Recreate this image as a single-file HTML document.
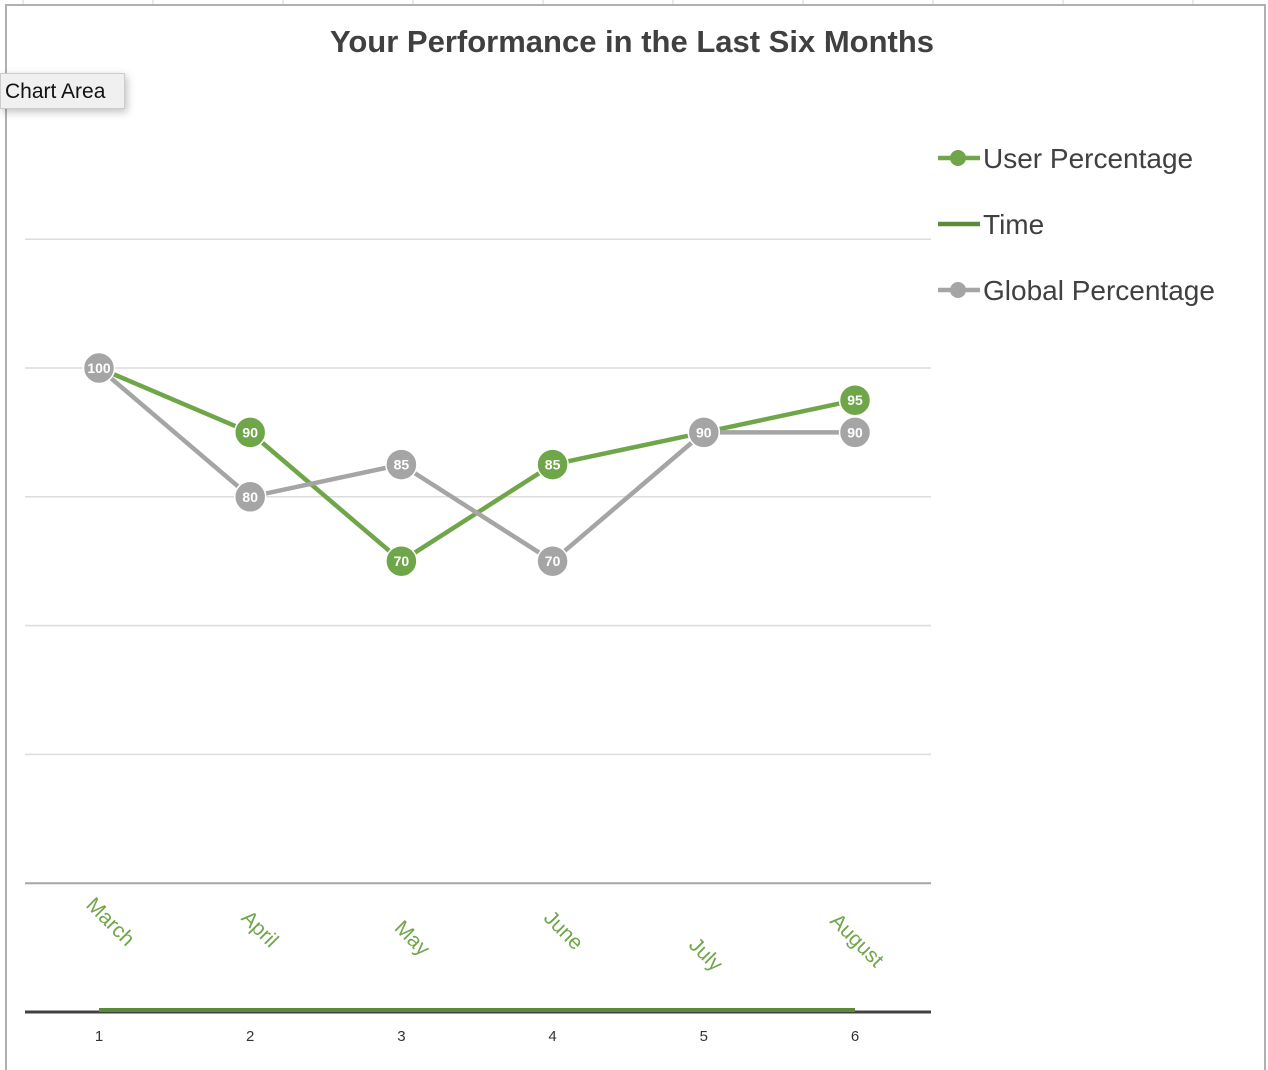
<!DOCTYPE html>
<html><head><meta charset="utf-8"><style>
html,body{margin:0;padding:0;background:#fff;width:1268px;height:1070px;overflow:hidden;font-family:"Liberation Sans",sans-serif}
#tip{position:absolute;left:0;top:73px;width:125px;height:36px;background:#f0f0f0;border:1px solid #ccc;box-shadow:2px 3px 8px rgba(0,0,0,.25);font-size:21px;line-height:36px;padding-left:4px;box-sizing:border-box;color:#111}
</style></head><body>
<svg id="chart" width="1268" height="1070" style="position:absolute;left:0;top:0"></svg>
<div id="tip">Chart Area</div>
<script>
const categories=[1,2,3,4,5,6];
const months=["March","April","May","June","July","August"];
const userValues=[100,90,70,85,90,95];
const globalValues=[100,80,85,70,90,90];
const timeValues=[0,0,0,0,0,0];
const yTicks=[0,20,40,60,80,100,120];
const labelDy=[-106,-93,-83,-93,-66,-90];
const labelDx=[-14,-10,-8,-10,-16,-26];

const NS="http://www.w3.org/2000/svg";
const svg=document.getElementById('chart');
function el(t,a,p){const e=document.createElementNS(NS,t);for(const k in a)e.setAttribute(k,a[k]);(p||svg).appendChild(e);return e;}
const x=v=>99+(v-1)*151.2;
const y=v=>1012-v*6.44;

for(let gx=23;gx<1268;gx+=130){const l=el('line',{x1:gx,y1:0,x2:gx,y2:6,stroke:'#d4d4d4'});}
const fr=el('rect',{x:6,y:5,width:1259,height:1070,fill:'#fff',stroke:'#b0b0b0','stroke-width':2});


const title=el('text',{x:632,y:52,'text-anchor':'middle','font-size':31,'font-weight':'bold',fill:'#404040'});
title.textContent='Your Performance in the Last Six Months';


yTicks.forEach(t=>{if(t===0)return;const l=el('line',{x1:25,x2:931,y1:y(t),y2:y(t),stroke:t===20?'#a6a6a6':'#dcdcdc','stroke-width':t===20?2:1.5});
});
const ax=el('line',{x1:25,x2:931,y1:1012,y2:1012,stroke:'#404040','stroke-width':3});


const tl=el('polyline',{points:categories.map((c,i)=>x(c)+','+(y(timeValues[i])-2)).join(' '),fill:'none',stroke:'#5b8a3a','stroke-width':4});


categories.forEach((c,i)=>{const t=el('text',{x:x(c),y:1041,'text-anchor':'middle','font-size':15,fill:'#333'});t.textContent=c;

const mx=x(c)+labelDx[i],my=1012+labelDy[i];
const m=el('text',{x:mx,y:my,'font-size':21,fill:'#70a64a',transform:`rotate(45 ${mx} ${my})`});m.textContent=months[i];
});

function series(vals,color,name){
 const p=el('polyline',{points:categories.map((c,i)=>x(c)+','+y(vals[i])).join(' '),fill:'none',stroke:color,'stroke-width':4.5,'stroke-linejoin':'round'});
 
 categories.forEach((c,i)=>{const g=el('circle',{cx:x(c),cy:y(vals[i]),r:15.5,fill:color,stroke:'#fff','stroke-width':1.5});
 
 const t=el('text',{x:x(c),y:y(vals[i])+5,'text-anchor':'middle','font-size':14,'font-weight':'bold',fill:'#fff'});t.textContent=vals[i];
 });
}
series(userValues,'#70a64a','user');
series(globalValues,'#a5a5a5','global');

const leg=[['User Percentage','#70a64a',true,158],['Time','#5b8a3a',false,224],['Global Percentage','#a5a5a5',true,290]];
leg.forEach(l=>{const g=el('g',{});
 el('line',{x1:938,x2:980,y1:l[3],y2:l[3],stroke:l[1],'stroke-width':4.5},g);
 if(l[2])el('circle',{cx:958,cy:l[3],r:8,fill:l[1]},g);
 const t=el('text',{x:983,y:l[3]+10,'font-size':28,fill:'#404040'},g);t.textContent=l[0];});
</script>
</body></html>
